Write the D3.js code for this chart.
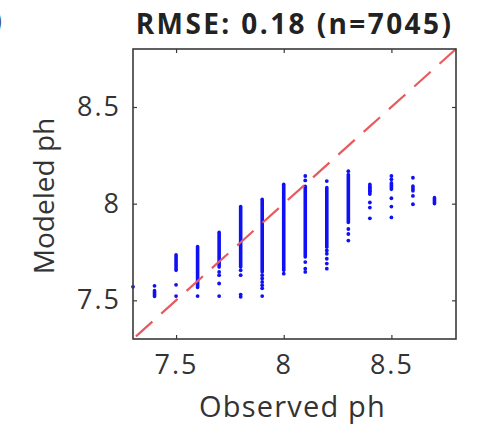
<!DOCTYPE html>
<html>
<head>
<meta charset="utf-8">
<script src="https://cdn.jsdelivr.net/npm/d3@7"></script>
<style>
  body { margin: 0; background: #fff; }
  svg { display: block; font-family: "Open Sans", sans-serif; }
</style>
</head>
<body>
<svg class="d3"></svg>
<script>
const width = 484
const height = 426

// observed pH values (one column of points per value)
const observed = [7.3, 7.4, 7.5, 7.6, 7.7, 7.8, 7.9, 8.0, 8.1, 8.2, 8.3, 8.4, 8.5, 8.6, 8.7]
// dense run of modeled values in each column (low / high end), null = none
const denseLo = [null, 7.52, 7.655, 7.567, 7.672, 7.672, 7.647, 7.655, 7.724, 7.775, 7.903, 8.049, 8.074, 8.066, 8.0]
const denseHi = [null, 7.55, 7.735, 7.778, 7.852, 7.985, 8.023, 8.1, 8.09, 8.083, 8.151, 8.1, 8.108, 8.091, 8.031]
// loose points of each column
const loosePts = [
    [7.57],
    [7.575],
    [7.58, 7.522],
    [7.522],
    [7.647, 7.63, 7.587, 7.522],
    [7.655, 7.63, 7.53, 7.518],
    [7.63, 7.613, 7.595, 7.578, 7.562, 7.522],
    [7.638],
    [8.143, 8.12, 7.698, 7.664, 7.647],
    [8.117, 7.758, 7.741, 7.715, 7.69, 7.664],
    [8.168, 7.869, 7.843, 7.809],
    [8.083, 8.066, 8.006, 7.98, 7.924],
    [8.143, 8.126, 8.028, 7.985, 7.929],
    [8.134, 8.04, 7.997],
    [],
]
const tickVals = [7.5, 8, 8.5]
const tickLabels = ['7.5', '8', '8.5']
const domain = [7.3, 8.8]
const title = 'RMSE: 0.18 (n=7045)'

const margin = { top: 49, right: 28, bottom: 87, left: 133 }
const pw = width - margin.left - margin.right
const ph = height - margin.top - margin.bottom

const svg = d3.select('svg.d3')
    .attr('width', width)
    .attr('height', height)
    .attr('viewBox', [0, 0, width, height])

const x = d3.scaleLinear().domain(domain).range([margin.left, margin.left + pw])
const y = d3.scaleLinear().domain(domain).range([margin.top + ph, margin.top])

const blue = '#1010f5'
const axisColor = '#3a3a3a'

// dense runs
const runs = observed.map((o, i) => ({ o: o, lo: denseLo[i], hi: denseHi[i] }))
    .filter(d => d.lo !== null)
svg.append('g')
    .selectAll('line')
    .data(runs)
    .join('line')
    .attr('x1', d => x(d.o))
    .attr('x2', d => x(d.o))
    .attr('y1', d => y(d.lo))
    .attr('y2', d => y(d.hi))
    .attr('stroke', blue)
    .attr('stroke-width', 3.6)
    .attr('stroke-linecap', 'round')

const pts = []
observed.forEach((o, i) => loosePts[i].forEach(v => pts.push({ o: o, v: v })))
svg.append('g')
    .selectAll('circle')
    .data(pts)
    .join('circle')
    .attr('cx', d => x(d.o))
    .attr('cy', d => y(d.v))
    .attr('r', 1.9)
    .attr('fill', blue)

// 1:1 line
svg.append('line')
    .attr('x1', x(domain[0]))
    .attr('y1', y(domain[0]))
    .attr('x2', x(domain[1]))
    .attr('y2', y(domain[1]))
    .attr('stroke', '#e85a5e')
    .attr('stroke-width', 2.2)
    .attr('stroke-dasharray', '22,12')
    .attr('stroke-dashoffset', -4)

// axes, MATLAB style box with inward ticks
const tl = 4
svg.append('g')
    .attr('transform', `translate(0,${margin.top + ph})`)
    .call(d3.axisBottom(x).tickValues(tickVals).tickSize(-tl).tickFormat((d, i) => tickLabels[i]).tickPadding(16))
    .call(g => g.select('.domain').remove())
svg.append('g')
    .attr('transform', `translate(0,${margin.top})`)
    .call(d3.axisTop(x).tickValues(tickVals).tickSize(-tl).tickFormat(''))
    .call(g => g.select('.domain').remove())
svg.append('g')
    .attr('transform', `translate(${margin.left},0)`)
    .call(d3.axisLeft(y).tickValues(tickVals).tickSize(-tl).tickFormat((d, i) => tickLabels[i]).tickPadding(12))
    .call(g => g.select('.domain').remove())
svg.append('g')
    .attr('transform', `translate(${margin.left + pw},0)`)
    .call(d3.axisRight(y).tickValues(tickVals).tickSize(-tl).tickFormat(''))
    .call(g => g.select('.domain').remove())

svg.selectAll('.tick line').attr('stroke', axisColor).attr('stroke-width', 1.2)
svg.selectAll('.tick text')
    .attr('fill', '#333')
    .attr('font-size', 27)
    .attr('letter-spacing', 2)
    .attr('font-family', '"Open Sans", sans-serif')

svg.append('rect')
    .attr('x', margin.left)
    .attr('y', margin.top)
    .attr('width', pw)
    .attr('height', ph)
    .attr('fill', 'none')
    .attr('stroke', axisColor)
    .attr('stroke-width', 1.6)

// labels
svg.append('text')
    .attr('x', margin.left + pw / 2)
    .attr('y', 34)
    .attr('text-anchor', 'middle')
    .attr('font-size', 28)
    .attr('font-weight', 'bold')
    .attr('letter-spacing', 2.4)
    .attr('fill', '#222')
    .text(title)

svg.append('text')
    .attr('x', margin.left + pw / 2 - 2)
    .attr('y', 417)
    .attr('text-anchor', 'middle')
    .attr('font-size', 29)
    .attr('letter-spacing', 1.2)
    .attr('fill', '#333')
    .text('Observed ph')

svg.append('text')
    .attr('transform', `translate(54,${margin.top + ph / 2 + 2}) rotate(-90)`)
    .attr('text-anchor', 'middle')
    .attr('font-size', 28)
    .attr('fill', '#333')
    .text('Modeled ph')

// clipped panel letter from the neighbouring figure
svg.append('text')
    .attr('x', -6)
    .attr('y', 30)
    .attr('font-size', 27)
    .attr('fill', '#444')
    .text(')')
</script>
</body>
</html>
